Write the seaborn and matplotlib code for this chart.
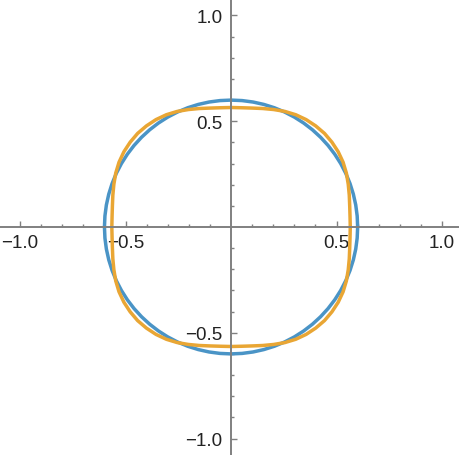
"""Circle vs. rounded-square curve, drawn in the style of a Mathematica plot."""

import matplotlib

matplotlib.use("Agg")

import matplotlib.pyplot as plt
import numpy as np
import pandas as pd
import seaborn as sns

# polar samples for one quadrant (degrees)
quadrant_angles = [0, 5, 10, 15, 20, 25, 30, 35, 40, 45, 50, 55, 60, 65, 70, 75, 80, 85]
blue_radius = [0.6] * len(quadrant_angles)
orange_radius = [0.565, 0.566, 0.571, 0.580, 0.591, 0.603, 0.613, 0.620, 0.624,
                 0.626, 0.624, 0.620, 0.613, 0.603, 0.591, 0.580, 0.571, 0.566]

major_ticks = [-1.0, -0.5, 0.5, 1.0]
tick_labels = ["\u22121.0", "\u22120.5", "0.5", "1.0"]
minor_ticks = [-0.9, -0.8, -0.7, -0.6, -0.4, -0.3, -0.2, -0.1,
               0.1, 0.2, 0.3, 0.4, 0.6, 0.7, 0.8, 0.9]

BLUE = "#4a94c6"
ORANGE = "#e9a634"
AXIS_GRAY = "#808080"


def closed_curve(name: str, radii: list[float]) -> pd.DataFrame:
    # the shape repeats every quarter turn, so tile the quadrant and close it
    angles = []
    values = []
    for quarter in range(4):
        angles.extend(a + 90 * quarter for a in quadrant_angles)
        values.extend(radii)
    angles.append(360)
    values.append(radii[0])
    theta = np.deg2rad(angles)
    r = np.asarray(values)
    return pd.DataFrame({"x": r * np.cos(theta), "y": r * np.sin(theta), "curve": name})


def main() -> None:
    sns.set_theme(style="white")
    plt.rcParams["font.family"] = ["Liberation Sans", "DejaVu Sans"]

    fig = plt.figure(figsize=(4.6, 4.56), dpi=100)
    ax = fig.add_axes([0, 0, 1, 1])

    curves = pd.concat([closed_curve("blue", blue_radius), closed_curve("orange", orange_radius)])
    sns.lineplot(
        data=curves,
        x="x",
        y="y",
        hue="curve",
        palette={"blue": BLUE, "orange": ORANGE},
        sort=False,
        estimator=None,
        linewidth=2.5,
        legend=False,
        ax=ax,
    )

    ax.set_xlim(-1.095, 1.085)
    ax.set_ylim(-1.078, 1.078)
    ax.set_xlabel("")
    ax.set_ylabel("")

    for side in ("top", "right"):
        ax.spines[side].set_visible(False)
    for side in ("left", "bottom"):
        ax.spines[side].set_position(("data", 0))
        ax.spines[side].set_color(AXIS_GRAY)
        ax.spines[side].set_linewidth(1.4)

    ax.set_xticks(major_ticks)
    ax.set_xticklabels(tick_labels)
    ax.set_yticks(major_ticks)
    ax.set_yticklabels(tick_labels)
    ax.set_xticks(minor_ticks, minor=True)
    ax.set_yticks(minor_ticks, minor=True)

    ax.tick_params(which="both", direction="in", bottom=True, left=True,
                   color=AXIS_GRAY, width=1.0, labelsize=13.5, labelcolor="#222222")
    ax.tick_params(which="major", length=4.0, pad=5)
    ax.tick_params(which="minor", length=2.2)
    ax.tick_params(axis="y", which="major", pad=6)

    ax.set_facecolor("white")
    fig.savefig("out.png", dpi=100, facecolor="white")
    plt.close(fig)


if __name__ == "__main__":
    main()
